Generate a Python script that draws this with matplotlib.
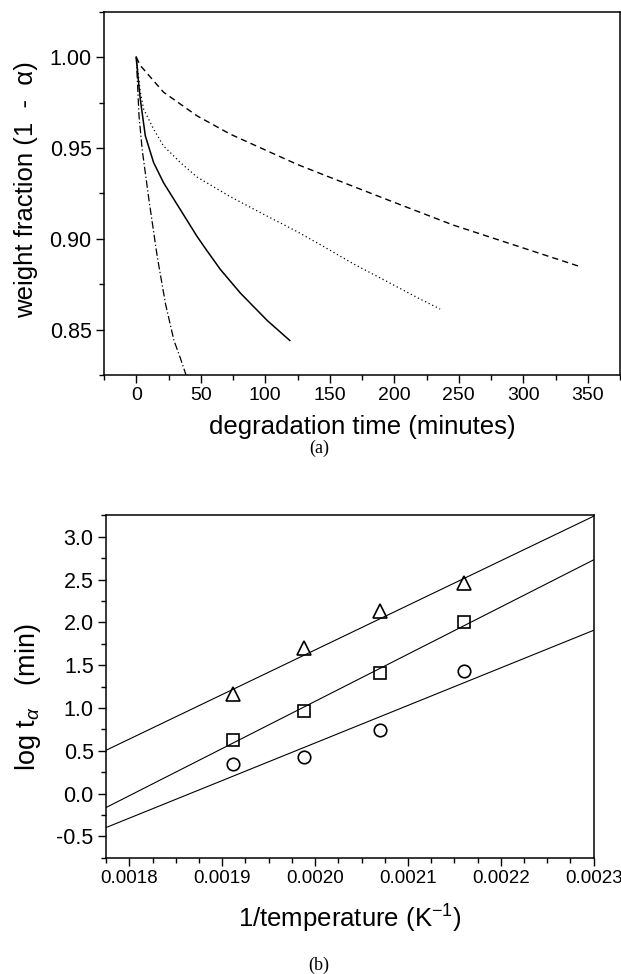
import numpy as np
import matplotlib
matplotlib.use('Agg')
import matplotlib.pyplot as plt
from matplotlib.ticker import MultipleLocator, FormatStrFormatter

plt.rcParams['font.family'] = ['Liberation Sans', 'DejaVu Sans']
plt.rcParams['mathtext.fontset'] = 'custom'
plt.rcParams['mathtext.rm'] = 'Liberation Sans'
plt.rcParams['mathtext.it'] = 'Liberation Sans:italic'

# (a) weight fraction vs degradation time
t_solid = [0, 1.5, 3.1, 7, 13.4, 21.1, 34.1, 47, 54.2, 65.3, 80.8, 101.5, 119]
w_solid = [1.0, 0.988, 0.9769, 0.9567, 0.942, 0.9309, 0.9161, 0.9014, 0.894, 0.883, 0.870,
           0.855, 0.844]

t_dashdot = [0, 2.1, 4.6, 9.8, 16.3, 22.7, 29.2, 34.3, 38.7]
w_dashdot = [1.0, 0.968, 0.949, 0.9216, 0.890, 0.864, 0.844, 0.834, 0.8247]

t_dotted = [0, 3.1, 5.7, 13.4, 21.1, 34.1, 47, 72.8, 98.6, 124.5, 145, 168.3, 194.2, 220, 235.5]
w_dotted = [1.0, 0.981, 0.9714, 0.9604, 0.9511, 0.942, 0.9340, 0.9232, 0.9135, 0.9040, 0.8958,
            0.8862, 0.8765, 0.8668, 0.8613]

t_dashed = [0, 3.1, 21.1, 47, 72.8, 98.6, 124.5, 147, 194.2, 245.8, 297.4, 343.4]
w_dashed = [1.0, 0.9954, 0.9807, 0.9677, 0.9576, 0.9493, 0.941, 0.9347, 0.9216, 0.9075,
            0.8955, 0.8848]

# (b) log t_alpha vs 1/T
inv_T = [0.001912, 0.001988, 0.002070, 0.002160]
log_tri = [1.16, 1.70, 2.13, 2.46]
log_sq = [0.63, 0.96, 1.41, 2.00]
log_circ = [0.34, 0.43, 0.74, 1.43]

line_x = [0.001775, 0.0023]
line_tri = [0.506, 3.24]
line_sq = [-0.163, 2.73]
line_circ = [-0.397, 1.907]

fig = plt.figure(figsize=(6.21, 9.74), dpi=100)

ax1 = fig.add_axes([0.1675, 0.615, 0.831, 0.373])
ax1.plot(t_solid, w_solid, 'k-', lw=1.1)
ax1.plot(t_dashdot, w_dashdot, color='k', ls=(0, (6, 2, 1, 2)), lw=0.9)
ax1.plot(t_dotted, w_dotted, color='k', ls=(0, (1, 2.2)), lw=0.9)
ax1.plot(t_dashed, w_dashed, color='k', ls=(0, (4.5, 3)), lw=1.0)
ax1.set_xlim(-25, 375)
ax1.set_ylim(0.825, 1.025)
ax1.xaxis.set_major_locator(MultipleLocator(50))
ax1.xaxis.set_minor_locator(MultipleLocator(25))
ax1.yaxis.set_major_locator(MultipleLocator(0.05))
ax1.yaxis.set_minor_locator(MultipleLocator(0.025))
ax1.yaxis.set_major_formatter(FormatStrFormatter('%.2f'))
ax1.set_xlabel('degradation time (minutes)', fontsize=18.5, va='center')
ax1.set_ylabel('weight fraction (1  -  α)', fontsize=18.5, va='center')
ax1.xaxis.set_label_coords(0.5, -0.142)
ax1.yaxis.set_label_coords(-0.151, 0.51)
ax1.tick_params(axis='x', labelsize=14)
ax1.tick_params(axis='y', labelsize=15.5)

ax2 = fig.add_axes([0.171, 0.1194, 0.785, 0.3515])
ax2.plot(line_x, line_tri, 'k-', lw=0.8)
ax2.plot(line_x, line_sq, 'k-', lw=0.8)
ax2.plot(line_x, line_circ, 'k-', lw=0.8)
ax2.plot(inv_T, log_tri, ls='none', marker='^', ms=10, mfc='none', mec='k', mew=1.2)
ax2.plot(inv_T, log_sq, ls='none', marker='s', ms=8.5, mfc='none', mec='k', mew=1.2)
ax2.plot(inv_T, log_circ, ls='none', marker='o', ms=9, mfc='none', mec='k', mew=1.2)
ax2.set_xlim(0.001775, 0.0023)
ax2.set_ylim(-0.75, 3.25)
ax2.xaxis.set_major_locator(MultipleLocator(0.0001))
ax2.xaxis.set_minor_locator(MultipleLocator(0.000025))
ax2.xaxis.set_major_formatter(FormatStrFormatter('%.4f'))
ax2.yaxis.set_major_locator(MultipleLocator(0.5))
ax2.yaxis.set_minor_locator(MultipleLocator(0.25))
ax2.yaxis.set_major_formatter(FormatStrFormatter('%.1f'))
ax2.set_xlabel(r'1/temperature (K$^{\mathregular{-1}}$)', fontsize=18.5, va='center')
ax2.set_ylabel(r'log t$_{\alpha}$   (min)', fontsize=19.5, va='center')
ax2.xaxis.set_label_coords(0.5, -0.178)
ax2.yaxis.set_label_coords(-0.16, 0.47)
ax2.tick_params(axis='x', labelsize=13.5)
ax2.tick_params(axis='y', labelsize=15.5)

for ax in (ax1, ax2):
    for s in ax.spines.values():
        s.set_linewidth(1.1)
    ax.tick_params(which='major', direction='out', length=6, width=1.0, pad=3)
    ax.tick_params(which='minor', direction='out', length=3.5, width=1.0)

fig.text(319 / 621, 1 - 448 / 974, '(a)', ha='center', va='center', fontsize=13,
         family='Liberation Serif')
fig.text(319 / 621, 1 - 965 / 974, '(b)', ha='center', va='center', fontsize=13,
         family='Liberation Serif')

fig.savefig('out.png', dpi=100)
